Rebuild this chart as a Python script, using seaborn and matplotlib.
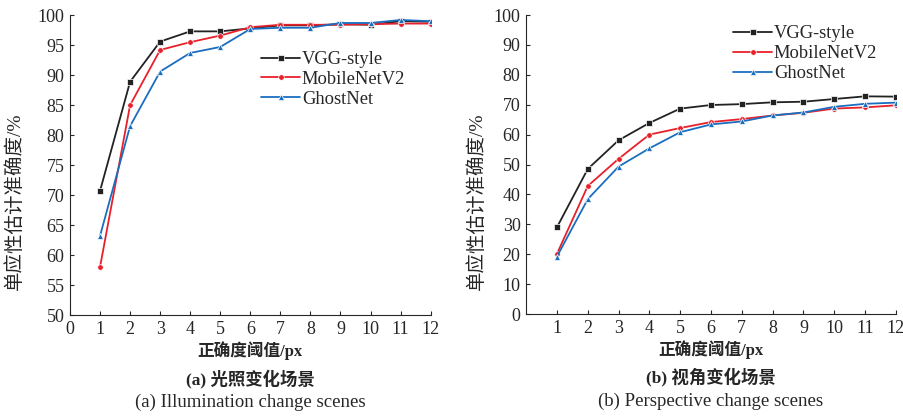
import pandas as pd
import matplotlib
matplotlib.use("Agg")
import matplotlib.pyplot as plt
import seaborn as sns

thresholds = list(range(1, 13))
models = ["VGG-style", "MobileNetV2", "GhostNet"]

# (a) illumination change scenes
illum_vgg = [70.7, 88.9, 95.6, 97.3, 97.3, 97.8, 98.3, 98.3, 98.5, 98.4, 99.0, 98.9]
illum_mobile = [58.0, 85.0, 94.2, 95.5, 96.6, 98.0, 98.4, 98.4, 98.4, 98.5, 98.6, 98.6]
illum_ghost = [63.2, 81.5, 90.6, 93.7, 94.7, 97.7, 97.9, 97.9, 98.7, 98.7, 99.2, 99.0]

# (b) perspective change scenes
persp_vgg = [29.0, 48.5, 58.1, 63.9, 68.7, 69.9, 70.2, 70.8, 71.0, 71.9, 72.8, 72.7]
persp_mobile = [20.1, 42.8, 51.9, 60.0, 62.2, 64.2, 65.2, 66.4, 67.3, 68.7, 69.1, 69.8]
persp_ghost = [19.2, 38.4, 49.3, 55.4, 60.8, 63.4, 64.4, 66.4, 67.4, 69.3, 70.3, 70.7]

x_label = "正确度阈值/px"
y_label = "单应性估计准确度/%"
captions_cn = ["(a) 光照变化场景", "(b) 视角变化场景"]
captions_en = ["(a) Illumination change scenes", "(b) Perspective change scenes"]

colors = {"VGG-style": "#222222", "MobileNetV2": "#e8202a", "GhostNet": "#1a6ec0"}
markers = {"VGG-style": "s", "MobileNetV2": "o", "GhostNet": "^"}


def make_df(vgg, mobile, ghost):
    rows = []
    for name, vals in zip(models, [vgg, mobile, ghost]):
        for t, v in zip(thresholds, vals):
            rows.append({"threshold": t, "acc": v, "model": name})
    return pd.DataFrame(rows)


sns.set_style("ticks")
plt.rcParams["font.family"] = ["Liberation Serif", "Noto Sans CJK SC"]
plt.rcParams["xtick.direction"] = "in"
plt.rcParams["ytick.direction"] = "in"

fig = plt.figure(figsize=(9.04, 4.17), dpi=100)
ax1 = fig.add_axes([0.0774, 0.2446, 0.399, 0.719])
ax2 = fig.add_axes([0.582, 0.247, 0.409, 0.717])

panels = [
    (ax1, make_df(illum_vgg, illum_mobile, illum_ghost), (50, 100), 5, list(range(0, 13)),
     (0.53, 0.88), (-0.128, 0.38)),
    (ax2, make_df(persp_vgg, persp_mobile, persp_ghost), (0, 100), 10, list(range(1, 13)),
     (0.56, 0.965), (-0.108, 0.378)),
]

for i, (ax, df, ylim, ystep, xticks, leg_pos, ylab_pos) in enumerate(panels):
    sns.lineplot(data=df, x="threshold", y="acc", hue="model", style="model",
                 palette=colors, markers=markers, dashes=False, markersize=4,
                 markeredgewidth=0.5, linewidth=1.3, ax=ax)
    ax.set_xlim(0, 12)
    ax.set_ylim(*ylim)
    ax.set_xticks(xticks)
    ax.set_yticks(list(range(ylim[0], ylim[1] + 1, ystep)))
    ax.tick_params(labelsize=13, length=3, width=0.8, pad=4)
    for s in ["top", "right"]:
        ax.spines[s].set_visible(False)
    ax.set_xlabel(x_label, fontsize=12, fontweight="bold", labelpad=3)
    ax.set_ylabel(y_label, fontsize=14)
    ax.yaxis.set_label_coords(*ylab_pos)
    ax.legend(loc="upper left", bbox_to_anchor=leg_pos, frameon=False, fontsize=13.3,
              handlelength=2.1, handletextpad=0.1, labelspacing=0.15,
              borderaxespad=0, borderpad=0)
    ax.text(0.5, -0.18, captions_cn[i], transform=ax.transAxes, ha="center", va="top",
            fontsize=12.5, fontweight="bold")
    ax.text(0.5, -0.262, captions_en[i], transform=ax.transAxes, ha="center", va="top",
            fontsize=13.5)

fig.savefig("out.png", dpi=100)
